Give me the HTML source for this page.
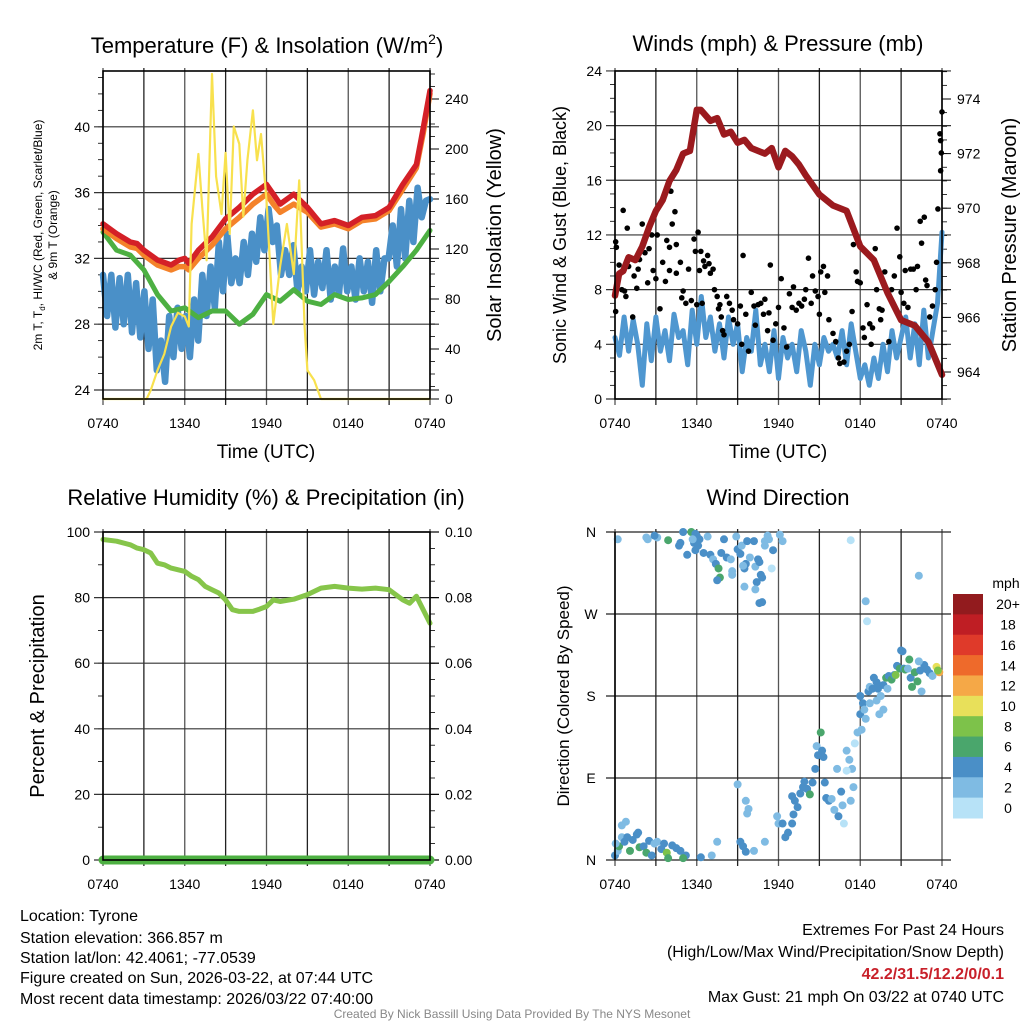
<!DOCTYPE html>
<html><head><meta charset="utf-8"><style>
html,body{margin:0;padding:0;background:#fff}
svg{display:block;font-family:"Liberation Sans",sans-serif}
</style></head><body>
<svg id="root" width="1024" height="1024" viewBox="0 0 1024 1024">
<rect width="1024" height="1024" fill="#fff"/>
<text x="267" y="53" font-size="22" text-anchor="middle">Temperature (F) &amp; Insolation (W/m<tspan font-size="14" dy="-9">2</tspan><tspan dy="9">)</tspan></text>
<text x="778" y="51" font-size="22" text-anchor="middle">Winds (mph) &amp; Pressure (mb)</text>
<text x="266" y="505" font-size="22" text-anchor="middle">Relative Humidity (%) &amp; Precipitation (in)</text>
<text x="778" y="505" font-size="22" text-anchor="middle">Wind Direction</text>

<text x="266" y="458" font-size="19" text-anchor="middle">Time (UTC)</text>
<text x="778" y="458" font-size="19" text-anchor="middle">Time (UTC)</text>
<text transform="translate(42,235) rotate(-90)" font-size="12" text-anchor="middle">2m T, T<tspan font-size="8" dy="3">d</tspan><tspan dy="-3">, HI/WC (Red, Green, Scarlet/Blue)</tspan></text>
<text transform="translate(57,235) rotate(-90)" font-size="12" text-anchor="middle">&amp; 9m T (Orange)</text>
<text transform="translate(501,235) rotate(-90)" font-size="20" text-anchor="middle">Solar Insolation (Yellow)</text>
<text transform="translate(566,235) rotate(-90)" font-size="18" text-anchor="middle">Sonic Wind &amp; Gust (Blue, Black)</text>
<text transform="translate(1016,235) rotate(-90)" font-size="20" text-anchor="middle">Station Pressure (Maroon)</text>
<text transform="translate(44,696) rotate(-90)" font-size="20" text-anchor="middle">Percent &amp; Precipitation</text>
<text transform="translate(569,696) rotate(-90)" font-size="17" text-anchor="middle">Direction (Colored By Speed)</text>

<g font-size="16">
<text x="20" y="921">Location: Tyrone</text>
<text x="20" y="943">Station elevation: 366.857 m</text>
<text x="20" y="963">Station lat/lon: 42.4061; -77.0539</text>
<text x="20" y="983">Figure created on Sun, 2026-03-22, at 07:44 UTC</text>
<text x="20" y="1004">Most recent data timestamp: 2026/03/22 07:40:00</text>
</g>
<g font-size="16" text-anchor="end">
<text x="1004" y="935">Extremes For Past 24 Hours</text>
<text x="1004" y="957">(High/Low/Max Wind/Precipitation/Snow Depth)</text>
<text x="1004" y="979" fill="#c8202a" font-weight="bold">42.2/31.5/12.2/0/0.1</text>
<text x="1004" y="1002">Max Gust: 21 mph On 03/22 at 0740 UTC</text>
</g>
<text x="512" y="1018" font-size="12" fill="#888" text-anchor="middle">Created By Nick Bassill Using Data Provided By The NYS Mesonet</text>
</svg>
<script>
// ---------- data ----------
var xTickLabels = ["0740","1340","1940","0140","0740"];
var tempTicks = [24,28,32,36,40];
var solarTicks = [0,40,80,120,160,200,240];
var windTicks = [0,4,8,12,16,20,24];
var presTicks = [964,966,968,970,972,974];
var rhTicks = [0,20,40,60,80,100];
var precipTicks = ["0.00","0.02","0.04","0.06","0.08","0.10"];
var dirTicks = ["N","E","S","W","N"];
var speedBins = ["0","2","4","6","8","10","12","14","16","18","20+"];
var speedColors = ["#b7e2f7","#7fbbe3","#4a8fc7","#4aa66c","#7dc24a","#e8e05a","#f5a847","#ee6a2b","#df3a2a","#bf1e24","#921b1e"];

var redT = [[0,34.1],[1,33.5],[2,33.0],[2.5,32.9],[3,32.5],[4,31.9],[5,31.6],[5.6,31.9],[6,32.0],[6.3,31.7],[7,32.5],[8,33.3],[9,34.4],[10,35.1],[11,35.9],[12,36.5],[12.5,35.9],[13,35.3],[14,35.9],[15,35.1],[16,34.1],[17,34.3],[18,34.0],[19,34.5],[20,34.6],[21,35.1],[22,36.5],[23,37.7],[23.5,39.9],[24,42.2]];
var orangeT = [[0,33.8],[1,33.2],[2,32.7],[2.5,32.6],[3,32.2],[4,31.6],[5,31.3],[5.6,31.5],[6,31.5],[6.3,31.3],[7,32.0],[8,32.8],[9,33.8],[10,34.5],[11,35.3],[12,35.9],[12.5,35.3],[13,34.8],[14,35.3],[15,34.8],[16,33.9],[17,34.1],[18,33.8],[19,34.3],[20,34.4],[21,34.9],[22,36.2],[23,37.5],[23.5,39.6],[24,42.0]];
var greenT = [[0,33.6],[1,32.5],[2,32.2],[3,31.3],[4,29.8],[5,28.8],[6,29.0],[7,28.4],[8,28.8],[9,28.8],[10,28.0],[11,28.6],[12,29.8],[13,29.4],[14,30.1],[15,29.4],[16,29.2],[17,29.8],[18,29.5],[19,29.6],[20,29.8],[21,30.6],[22,31.5],[23,32.5],[24,33.7]];
var blueT = [31,28.5,31,27.8,30.8,28,31,27.5,30.5,27.2,30,26.5,29.5,25.2,27,24.5,28.5,26,29,26.5,28.5,26,29.5,27,31,28.5,31.5,29,33,30,33.5,30.5,32,30.5,33,31,33.5,31.8,34.5,32.5,35,33,34,31,32.5,31,32.8,30,31.5,30,32.5,29.8,31.8,30.2,32.5,29.5,31.5,29.8,32.6,30,31.5,29.5,32,30,31.8,29.3,32.5,30,32,32,34,31.5,35,32,35.5,33,36.3,34.5,35.5,35.6];
var solar = [[0,0],[3.2,0],[3.5,7],[4,23],[4.5,36],[5,58],[5.5,69],[6,66],[6.3,58],[6.5,140],[7,196],[7.3,151],[7.6,111],[8,260],[8.3,178],[8.7,148],[9,197],[9.3,132],[9.6,218],[10,204],[10.3,146],[10.6,191],[11,231],[11.3,191],[11.6,212],[12,159],[12.5,60],[13,106],[13.5,140],[14,100],[14.4,175],[14.8,58],[15,23],[15.5,15],[16,0],[24,0]];

var pressure = [[0,966.8],[0.3,967.6],[0.6,967.7],[1,968.2],[1.5,968.1],[2,968.6],[2.5,969.3],[3,969.9],[3.5,970.3],[4,971.0],[4.5,971.4],[5,972.0],[5.5,972.1],[6,973.6],[6.3,973.6],[7,973.2],[7.5,973.3],[8,972.7],[8.5,972.8],[9,972.4],[9.5,972.5],[10,972.2],[11,972.0],[11.5,972.2],[12,971.5],[12.5,972.1],[13,971.9],[13.5,971.6],[14,971.2],[15,970.5],[16,970.1],[17,969.9],[18,968.6],[19,968.1],[20,966.9],[21,965.9],[22,965.7],[23,965.1],[24,963.9]];
var windSpd = [4.5,3.2,6.0,3.5,5.8,4.0,1.0,5.5,2.8,6.0,3.5,5.0,2.8,6.2,4.5,5.0,2.5,6.5,4.0,7.5,4.5,6.0,3.5,5.5,3.0,6.0,4.0,5.5,2.0,4.5,3.5,6.5,2.5,4.0,2.0,5.0,1.5,4.5,3.0,4.0,2.0,5.0,3.5,1.0,4.0,2.5,4.5,3.5,4.0,3.0,5.0,2.5,5.5,3.5,1.5,2.5,1.0,3.0,1.5,4.0,2.0,5.0,3.0,4.5,6.0,3.0,5.5,2.5,6.5,3.0,5.0,7.0,12.2];
var gustT = [0.05,0.1,0.05,0.3,0.5,0.6,0.7,0.9,0.8,1.0,1.3,1.4,1.6,1.7,1.8,2.0,2.2,2.4,2.5,2.7,2.8,3.0,3.1,3.3,3.5,3.7,3.8,4.0,4.0,4.1,4.2,4.4,4.5,4.5,4.8,4.9,5.0,5.2,5.4,5.6,5.8,5.9,6.0,6.1,6.2,6.3,6.4,6.5,6.6,6.8,6.9,7.0,7.2,7.3,7.5,7.6,7.7,7.8,7.9,8.0,8.2,8.4,8.6,8.7,9.0,9.2,9.3,9.4,9.6,9.8,10.0,10.2,10.3,10.5,10.7,10.9,11.0,11.2,11.3,11.4,11.6,11.8,12.0,12.2,12.4,12.6,12.8,13.0,13.1,13.3,13.5,13.7,13.9,14.0,14.2,14.4,14.5,14.7,14.9,15.0,15.1,15.3,15.4,15.6,15.7,16.0,16.2,16.4,16.5,16.8,17.0,17.2,17.4,17.5,17.7,17.8,18.0,18.2,18.3,18.5,18.7,18.8,18.9,19.1,19.2,19.4,19.5,19.6,19.8,20.1,20.3,20.5,20.7,20.9,21.0,21.2,21.3,21.5,21.7,21.9,22.1,22.2,22.4,22.5,22.7,22.8,22.9,23.1,23.3,23.5,23.6,23.7,23.85,23.9,24.0,23.95,23.9];
var gustV = [11.5,11.1,6.4,9.8,8.0,13.8,7.9,12.5,7.5,9.7,6.0,9.0,8.1,9.5,10.2,12.8,10.7,8.5,11.0,12.0,9.4,8.8,12.0,6.6,10.0,8.6,11.6,9.4,11.1,15.2,12.8,13.7,11.3,9.2,10.0,7.4,7.9,7.0,9.5,7.2,11.7,10.8,6.9,12.2,9.4,10.8,7.0,10.1,9.7,10.5,9.9,9.2,9.5,8.0,7.5,6.6,6.9,6.0,5.0,4.7,7.5,7.0,6.5,5.8,5.5,6.8,4.0,10.5,6.2,3.5,7.8,6.8,5.4,6.9,7.0,6.2,7.3,5.0,6.3,9.8,4.3,5.5,6.7,8.8,5.2,3.8,7.7,6.7,8.2,6.5,7.0,6.8,7.3,8.0,10.3,7.0,9.0,7.9,7.5,6.2,9.3,9.7,7.8,9.0,5.8,4.8,4.2,3.0,2.6,2.7,3.5,4.0,6.4,11.3,9.3,8.6,8.5,5.2,4.5,6.9,5.5,4.0,5.2,11.0,8.0,6.6,5.8,6.5,9.3,4.2,8.0,9.0,12.5,10.4,7.8,7.0,9.4,6.7,9.5,9.5,8.0,9.7,13.0,11.4,13.3,8.7,8.3,6.0,6.8,8.0,10.0,13.9,19.4,18.9,21.0,18.0,16.7];

var rh = [[0,97.7],[1,97.2],[2,96.1],[2.5,95.1],[3,94.6],[3.5,93.6],[4,90.5],[4.5,90.0],[5,89.0],[6,88.0],[6.5,86.5],[7,85.5],[7.5,83.4],[8,82.4],[8.5,81.4],[9,79.3],[9.5,76.3],[10,75.8],[11,75.8],[11.5,76.5],[12,77.3],[12.5,79.3],[13,78.8],[14,79.5],[15,80.9],[16,82.9],[17,83.4],[18,82.9],[19,82.6],[20,82.9],[21,82.4],[22,79.3],[22.5,78.3],[23,80.4],[23.5,76.3],[24,72.2]];
var precip = [[0,0],[24,0]];

var dirT = [2.3,2.4,3.1,3.9,5.0,5.6,5.9,6.0,6.2,5.8,5.9,6.1,6.5,6.8,7.0,7.2,7.4,7.6,7.7,7.5,7.8,8.0,8.2,8.5,8.6,8.9,9.0,8.6,9.2,9.3,9.5,9.6,9.4,9.5,9.7,9.9,10.2,10.3,10.5,10.6,10.4,10.3,10.7,10.8,10.6,10.8,11.0,11.2,11.3,11.5,11.0,11.6,0.2,2.9,4.7,4.8,5.3,5.7,12.1,12.3,17.3,22.3,18.4,18.5,
 0,0.2,0.3,0.5,0.7,0.9,1.1,1.3,1.6,1.8,2.1,2.3,2.5,2.7,2.9,3.1,3.4,3.6,3.8,3.9,4.2,4.5,4.8,5.2,5.0,6.3,7.5,7.1,0.05,0.5,0.8,1.7,
 9.0,9.6,9.8,9.7,9.2,9.4,9.6,10.2,11.0,11.9,12.0,12.3,12.5,12.7,13.0,13.1,13.0,13.2,13.4,13.6,13.8,13.9,14.1,14.3,14.5,14.7,14.9,15.1,14.8,15.3,15.2,15.4,15.5,15.7,15.9,16.1,16.4,16.7,16.3,16.6,17.0,17.2,17.4,17.5,17.3,17.8,18.1,17.6,17.0,16.8,
 18.0,18.2,18.0,18.3,18.4,18.6,18.7,18.9,19.0,19.2,19.3,19.5,19.7,19.9,20.1,20.3,20.5,20.7,20.9,21.1,21.2,21.3,21.5,21.7,21.8,22.0,22.2,22.4,22.5,22.7,22.9,23.1,23.3,23.6,23.8,23.7,19.2,19.4,19.7,20.0,18.7,21.6,21.0,22.3,20.6];
var dirDeg = [354,352,354,351,360,360,358,356,352,348,340,345,337,355,335,330,325,320,310,307,337,352,332,330,317,355,341,313,336,345,320,325,323,300,350,332,350,322,330,327,305,297,313,310,282,283,350,356,352,320,345,340,352,356,345,348,335,352,357,350,351,312,284,262,
 5,10,15,25,20,25,10,22,28,14,15,8,21,5,18,20,12,18,8,2,16,13,10,5,2,3,20,5,18,38,42,30,
 83,65,56,51,20,15,9,10,20,48,40,40,25,30,40,50,70,65,58,73,80,86,78,72,85,100,115,140,125,113,120,85,68,65,67,55,48,60,100,75,120,110,100,80,65,140,143,128,98,40,
 160,172,180,165,155,185,190,188,200,195,188,180,192,200,202,198,203,213,210,229,210,209,210,200,190,206,196,208,185,214,209,205,202,212,206,208,175,160,165,188,172,220,230,218,203];
var dirSpd = [3,3,3,7,5,7,5,5,5,5,5,5,5,3,5,3,5,7,7,5,5,5,5,3,3,3,5,3,5,3,5,5,3,3,5,3,5,3,5,5,5,3,5,5,5,5,3,3,3,1,3,5,3,5,5,5,5,3,3,3,1,3,3,1,
 5,3,7,3,5,5,7,5,5,7,5,7,5,5,3,3,5,5,9,7,5,5,5,5,7,5,3,3,3,3,3,5,
 3,3,3,3,5,5,5,3,3,3,3,5,5,5,5,5,5,5,5,5,5,5,5,7,5,5,5,7,3,5,5,5,5,5,3,3,5,3,3,5,3,3,3,3,3,3,3,1,1,1,
 5,5,5,3,3,5,3,5,5,5,5,3,5,7,5,7,5,5,7,5,5,7,3,5,7,7,7,5,3,5,5,5,3,11,13,9,3,3,3,3,3,7,5,3,9];

// ---------- drawing ----------
var NS = "http://www.w3.org/2000/svg";
var root = document.getElementById("root");
function mk(tag, attrs, parent) {
  var e = document.createElementNS(NS, tag);
  for (var k in attrs) e.setAttribute(k, attrs[k]);
  (parent || root).appendChild(e);
  return e;
}
var W = 327;
function xs(x0) { return function (t) { return x0 + t * W / 24; }; }
var xL = xs(103), xR = xs(615);
var yTemp = function (v) { return 390 - (v - 24) * 16.45; };
var ySolar = function (v) { return 399 - v * 1.25; };
var yWind = function (v) { return 399 - v * 13.67; };
var yPres = function (p) { return 372 - (p - 964) * 27.3; };
var yRH = function (v) { return 860 - v * 3.28; };
var yPrec = function (v) { return 860 - v * 3280; };
var yDir = function (d) { return 860 - d * 328 / 360; };

function frame(x0, y0, y1, name) {
  var g = mk("g", {});
  
  
  for (var i = 0; i <= 8; i++) {
    var x = x0 + i * W / 8;
    var l = mk("line", {x1: x, x2: x, y1: y0 - 3, y2: y1 + 6, stroke: (i % 2 ? "#222" : "#555"), "stroke-width": 1.3}, g);
    
    
  }
  for (var j = 0; j < 5; j++) {
    var tx = mk("text", {x: x0 + j * W / 4, y: y1 + 29, "font-size": 14, "text-anchor": "middle"}, g);
    tx.textContent = xTickLabels[j];
    
    
  }
  return g;
}
function yAxis(g, vals, labels, yf, x0, side, minorStep, lo, hi, grid) {
  var x1 = x0 + W;
  for (var v = lo; v <= hi + 1e-9; v += minorStep) {
    var y = yf(v);
    var xa = side === "L" ? x0 : x1;
    var d = side === "L" ? -5 : 5;
    var m = mk("line", {x1: xa, x2: xa + d, y1: y, y2: y, stroke: "#000", "stroke-width": 0.8}, g);
    
    
  }
  for (var i = 0; i < vals.length; i++) {
    var y2 = yf(vals[i]);
    if (grid) {
      var gl = mk("line", {x1: x0 - 9, x2: x1 + 9, y1: y2, y2: y2, stroke: "#333", "stroke-width": 1.2}, g);
      
      
    } else {
      var tk = mk("line", {x1: side === "L" ? x0 - 9 : x1, x2: side === "L" ? x0 : x1 + 9, y1: y2, y2: y2, stroke: "#000", "stroke-width": 1}, g);
      
      
    }
    var t = mk("text", {x: side === "L" ? x0 - 13 : x1 + 15, y: y2 + 5, "font-size": 14, "text-anchor": side === "L" ? "end" : "start"}, g);
    t.textContent = labels[i];
    
    
  }
}
function border(g, x0, y0, y1) {
  var r = mk("rect", {x: x0, y: y0, width: W, height: y1 - y0, fill: "none", stroke: "#000", "stroke-width": 1.6}, g);
  
  
}
function path(g, pts, xf, yf, color, w, name) {
  var d = "";
  pts.forEach(function (p, i) { d += (i ? "L" : "M") + xf(p[0]).toFixed(1) + "," + yf(p[1]).toFixed(1); });
  var e = mk("path", {d: d, fill: "none", stroke: color, "stroke-width": w, "stroke-linejoin": "round", "stroke-linecap": "round"}, g);
  
  
  return e;
}
function uniform(arr) { return arr.map(function (v, i) { return [i * 24 / (arr.length - 1), v]; }); }

// Panel 1
var g1 = frame(103, 71, 399, "temperature-panel");
yAxis(g1, tempTicks, tempTicks, yTemp, 103, "L", 1, 24, 43, true);
yAxis(g1, solarTicks, solarTicks, ySolar, 103, "R", 10, 0, 260, false);
path(g1, uniform(blueT), xL, yTemp, "#4a90c8", 6.5, "wind-chill-line");
path(g1, greenT, xL, yTemp, "#4db042", 5, "dewpoint-line");
path(g1, orangeT, xL, yTemp, "#f4822a", 5.5, "temp-9m-line");
path(g1, redT, xL, yTemp, "#d42027", 5.5, "temp-2m-line");
path(g1, solar, xL, ySolar, "#f8e14e", 2.2, "solar-insolation-line");
border(g1, 103, 71, 399);

// Panel 2
var g2 = frame(615, 71, 399, "winds-panel");
yAxis(g2, windTicks, windTicks, yWind, 615, "L", 1, 0, 24, true);
yAxis(g2, presTicks, presTicks, yPres, 615, "R", 0.5, 963, 975, false);
path(g2, uniform(windSpd), xR, yWind, "#4f97d0", 5, "sustained-wind-line");
for (var i = 0; i < gustT.length; i++) {
  var c = mk("circle", {cx: xR(gustT[i]), cy: yWind(gustV[i]), r: 2.8, fill: "#000"}, g2);
  
  
}
path(g2, pressure, xR, yPres, "#9b1a1e", 6.5, "pressure-line");
border(g2, 615, 71, 399);

// Panel 3
var g3 = frame(103, 532, 860, "humidity-panel");
yAxis(g3, rhTicks, rhTicks, yRH, 103, "L", 10, 0, 100, true);
yAxis(g3, [0, 0.02, 0.04, 0.06, 0.08, 0.10], precipTicks, yPrec, 103, "R", 0.005, 0, 0.1, false);
path(g3, rh, xL, yRH, "#86c54a", 5, "humidity-line");
path(g3, precip, xL, yPrec, "#4db042", 9, "precipitation-line");
border(g3, 103, 532, 860);

// Panel 4
var g4 = frame(615, 532, 860, "wind-direction-panel");
var dirVals = [0, 90, 180, 270, 360];
for (var k = 0; k < 5; k++) {
  var yy = yDir(dirVals[k]);
  var gl = mk("line", {x1: 615 - 9, x2: 615 + W + 9, y1: yy, y2: yy, stroke: "#222", "stroke-width": 1.2}, g4);
  
  
  var tl = mk("text", {x: 591, y: yy + 5, "font-size": 14, "text-anchor": "middle"}, g4);
  tl.textContent = dirTicks[k];
  
  
}
for (var i = 0; i < dirT.length; i++) {
  var ci = Math.min(10, Math.floor(dirSpd[i] / 2));
  var c = mk("circle", {cx: xR(dirT[i]), cy: yDir(dirDeg[i]), r: 4, fill: speedColors[ci]}, g4);
  
  
}
var fr = mk("line", {x1: 615, x2: 615, y1: 532, y2: 860, stroke: "#000", "stroke-width": 1.6}, g4);



// Colorbar
var cb = mk("g", {});


var cbTop = 594, cbH = 224 / speedBins.length;
var ut = mk("text", {x: 1006, y: 588, "font-size": 14, "text-anchor": "middle"}, cb);
ut.textContent = "mph";


for (var b = 0; b < speedBins.length; b++) {
  var idx = speedBins.length - 1 - b;
  var y = cbTop + b * cbH;
  var r = mk("rect", {x: 953, y: y, width: 30, height: cbH + 0.5, fill: speedColors[idx]}, cb);
  
  
  var t = mk("text", {x: 1008, y: y + cbH / 2 + 5, "font-size": 14, "text-anchor": "middle"}, cb);
  t.textContent = speedBins[idx];
  
  
}
</script>
</body></html>
